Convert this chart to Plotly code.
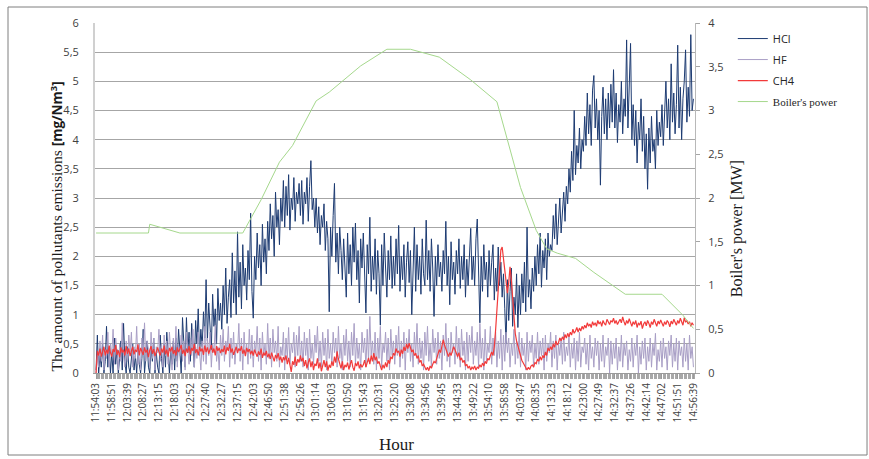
import plotly.graph_objects as go

# x-axis category labels (one label every 12 samples)
tick_labels = [
    "11:54:03", "11:58:51", "12:03:39", "12:08:27", "12:13:15", "12:18:03",
    "12:22:52", "12:27:40", "12:32:27", "12:37:15", "12:42:03", "12:46:50",
    "12:51:38", "12:56:26", "13:01:14", "13:06:03", "13:10:50", "13:15:43",
    "13:20:31", "13:25:20", "13:30:08", "13:34:56", "13:39:45", "13:44:33",
    "13:49:22", "13:54:10", "13:58:58", "14:03:47", "14:08:35", "14:13:23",
    "14:18:12", "14:23:00", "14:27:49", "14:32:37", "14:37:26", "14:42:14",
    "14:47:02", "14:51:51", "14:56:39",
]
samples_per_label = 12

# HCl concentration [mg/Nm3], one row per labelled interval
hcl = [
    0.05, 0.65, 0.0, 0.3, 0.1, 0.5, 0.0, 0.2, 0.8, 0.1, 0.45, 0.0,
    0.35, 0.0, 0.6, 0.15, 0.4, 0.0, 0.25, 0.55, 0.05, 0.85, 0.2, 0.0,
    0.45, 0.1, 0.0, 0.35, 0.5, 0.05, 0.3, 0.0, 0.4, 0.15, 0.0, 0.25,
    0.75, 0.0, 0.3, 0.55, 0.1, 0.0, 0.45, 0.2, 0.6, 0.0, 0.35, 0.1,
    0.0, 0.65, 0.25, 0.0, 0.5, 0.1, 0.7, 0.3, 0.0, 0.4, 0.15, 0.55,
    0.05, 0.6, 0.2, 0.75, 0.3, 0.0, 0.95, 0.4, 0.1, 0.95, 0.35, 0.7,
    0.2, 0.85, 0.4, 0.1, 0.9, 0.5, 1.1, 0.3, 0.75, 0.45, 1.05, 0.6,
    1.6, 0.55, 1.2, 0.7, 0.4, 1.35, 0.8, 1.1, 0.5, 1.45, 0.9, 1.2,
    0.75, 1.5, 1.0, 1.8, 0.85, 1.3, 1.6, 0.95, 2.06, 1.2, 1.75, 1.0,
    2.42, 1.3, 1.9, 1.1, 2.2, 1.5, 1.8, 1.25, 2.1, 1.6, 2.74, 1.4,
    0.94, 2.0, 1.6, 2.4, 1.8, 2.2, 1.5, 2.55, 1.9, 2.3, 1.7, 2.6,
    2.1, 2.9, 2.3, 2.7, 2.0, 3.1, 2.5, 2.8, 2.2, 3.0, 2.6, 3.3,
    2.5, 3.2, 2.7, 3.4, 2.45, 3.0, 2.8, 3.35, 2.6, 3.1, 2.9, 3.25,
    2.7, 3.3, 2.55, 3.1, 2.9, 3.35, 2.6, 3.2, 3.64, 2.8, 3.0, 2.5,
    3.0, 2.4, 2.85, 2.2, 2.7, 2.5, 2.9, 2.1, 2.6, 2.3, 1.05, 2.5,
    2.0, 2.7, 3.25, 1.9, 2.4, 1.7, 2.5, 2.1, 1.6, 2.3, 1.8, 1.3,
    2.4, 1.7, 2.2, 1.5, 2.5, 1.9, 2.57, 1.6, 2.1, 1.2, 2.3, 1.8,
    2.4, 1.5, 1.03, 2.2, 1.7, 2.67, 1.4, 2.0, 1.6, 2.3, 1.35, 2.1,
    1.7, 0.82, 2.2, 1.5, 2.4, 1.8, 1.3, 2.1, 1.6, 2.35, 1.45, 2.0,
    1.5, 2.3, 1.7, 2.53, 1.4, 2.0, 1.6, 2.2, 1.3, 1.9, 2.25, 1.55,
    2.1, 1.0, 1.8, 2.5, 1.4, 2.2, 1.6, 2.0, 1.35, 2.3, 1.7, 1.5,
    2.62, 1.6, 2.1, 1.4, 2.3, 1.8, 0.97, 2.0, 1.5, 2.2, 1.65, 1.9,
    1.4, 2.1, 1.7, 2.6, 1.5, 2.0, 1.17, 2.25, 1.6, 1.9, 1.35, 2.1,
    1.7, 2.3, 1.45, 2.0, 1.6, 2.2, 1.3, 1.95, 1.5, 2.1, 2.48, 1.6,
    2.0, 1.5, 2.3, 2.64, 1.7, 0.86, 2.0, 1.4, 2.2, 1.6, 1.9, 1.3,
    2.1, 1.5, 1.9, 2.2, 1.25, 1.8, 1.4, 2.16, 1.5, 1.9, 1.3, 1.7,
    1.1, 0.5, 1.6, 0.9, 1.4, 1.8, 0.8, 1.3, 1.0, 1.7, 0.78, 1.5,
    1.0, 1.7, 1.2, 1.9, 1.05, 2.5, 1.3, 1.6, 1.1, 1.8, 1.4, 2.0,
    1.5, 2.2, 1.7, 2.4, 1.47, 2.1, 1.8, 2.3, 1.6, 2.4, 2.0, 2.2,
    2.1, 2.7, 2.3, 2.9, 2.2, 2.6, 3.0, 2.4, 2.8, 3.1, 2.6, 3.2,
    2.9, 3.5, 3.1, 3.8, 3.3, 4.5, 3.4, 3.9, 3.6, 4.2, 3.5, 4.0,
    3.8, 4.4, 3.9, 4.8, 4.1, 4.6, 3.9, 4.85, 5.1, 4.2, 4.7, 4.0,
    4.5, 3.22, 4.4, 4.9, 4.1, 4.7, 4.0, 4.8, 4.2, 4.95, 4.3, 5.2,
    4.2, 4.8, 3.95, 4.6, 4.3, 5.0, 4.1, 4.7, 4.4, 5.71, 4.2, 4.9,
    5.65, 4.0, 4.6, 3.9, 4.5, 3.6, 4.3, 4.0, 4.7, 3.8, 4.4, 3.5,
    4.1, 3.15, 4.2, 3.6, 4.4, 3.8, 4.0, 3.5, 4.5, 3.9, 4.3, 4.05,
    4.6, 3.9, 4.4, 5.0, 4.2, 4.7, 4.0, 5.3, 4.3, 4.8, 4.1, 4.6,
    5.62, 4.2, 4.9, 4.0, 4.7, 5.0, 5.54, 4.3, 4.9, 4.4, 5.8, 4.5,
    4.7,
]

# HF concentration [mg/Nm3]
hf = [
    0.0, 0.3, 0.1, 0.55, 0.2, 0.65, 0.05, 0.4, 0.25, 0.7, 0.1, 0.5,
    0.3, 0.75, 0.15, 0.6, 0.35, 0.05, 0.5, 0.2, 0.86, 0.3, 0.1, 0.55,
    0.2, 0.65, 0.35, 0.7, 0.1, 0.45, 0.25, 0.8, 0.15, 0.5, 0.05, 0.6,
    0.3, 0.86, 0.2, 0.55, 0.4, 0.1, 0.7, 0.25, 0.6, 0.05, 0.45, 0.35,
    0.75, 0.2, 0.5, 0.1, 0.65, 0.3, 0.55, 0.15, 0.7, 0.35, 0.05, 0.6,
    0.25, 0.8, 0.1, 0.5, 0.3, 0.65, 0.2, 0.55, 0.05, 0.7, 0.4, 0.15,
    0.6, 0.3, 0.75, 0.1, 0.45, 0.25, 0.7, 0.35, 0.05, 0.55, 0.2, 0.8,
    0.15, 0.6, 0.3, 0.7, 0.1, 0.5, 0.35, 0.82, 0.2, 0.45, 0.05, 0.65,
    0.3, 0.75, 0.2, 0.55, 0.4, 0.8, 0.1, 0.6, 0.25, 0.7, 0.15, 0.5,
    0.35, 0.85, 0.2, 0.6, 0.05, 0.7, 0.3, 0.5, 0.15, 0.75, 0.25, 0.65,
    0.1, 0.55, 0.35, 0.8, 0.2, 0.6, 0.05, 0.7, 0.3, 0.5, 0.15, 0.85,
    0.25, 0.6, 0.1, 0.75, 0.35, 0.55, 0.2, 0.8, 0.1, 0.45, 0.3, 0.7,
    0.05, 0.6, 0.25, 0.78, 0.15, 0.5, 0.35, 0.7, 0.1, 0.65, 0.3, 0.8,
    0.2, 0.55, 0.1, 0.7, 0.3, 0.6, 0.05, 0.75, 0.25, 0.5, 0.15, 0.65,
    0.35, 0.8, 0.2, 0.55, 0.1, 0.7, 0.3, 0.6, 0.05, 0.75, 0.25, 0.5,
    0.15, 0.7, 0.35, 0.6, 0.1, 0.8, 0.25, 0.5, 0.05, 0.65, 0.3, 0.75,
    0.2, 0.55, 0.1, 0.7, 0.3, 0.85, 0.15, 0.6, 0.25, 0.5, 0.05, 0.7,
    0.35, 0.6, 0.1, 0.75, 0.2, 0.97, 0.3, 0.55, 0.15, 0.7, 0.05, 0.6,
    0.25, 0.8, 0.1, 0.5, 0.35, 0.7, 0.2, 0.6, 0.05, 0.75, 0.3, 0.55,
    0.15, 0.65, 0.3, 0.8, 0.1, 0.55, 0.25, 0.7, 0.05, 0.6, 0.35, 0.75,
    0.2, 0.5, 0.1, 0.7, 0.3, 0.85, 0.15, 0.6, 0.25, 0.55, 0.05, 0.7,
    0.3, 0.8, 0.2, 0.5, 0.1, 0.75, 0.35, 0.6, 0.15, 0.7, 0.25, 0.55,
    0.05, 0.65, 0.3, 0.85, 0.2, 0.6, 0.1, 0.7, 0.35, 0.5, 0.15, 0.8,
    0.25, 0.6, 0.1, 0.75, 0.3, 0.55, 0.05, 0.7, 0.2, 0.65, 0.35, 0.8,
    0.15, 0.55, 0.3, 0.7, 0.1, 0.85, 0.25, 0.6, 0.05, 0.75, 0.2, 0.5,
    0.35, 0.8, 0.15, 0.6, 0.3, 0.7, 0.1, 0.55, 0.25, 0.75, 0.05, 0.65,
    0.2, 0.7, 0.35, 0.6, 0.1, 0.5, 0.3, 0.75, 0.15, 0.55, 0.25, 0.7,
    0.1, 0.6, 0.3, 0.5, 0.05, 0.7, 0.2, 0.55, 0.35, 0.65, 0.1, 0.5,
    0.25, 0.7, 0.15, 0.55, 0.3, 0.6, 0.05, 0.65, 0.2, 0.5, 0.35, 0.7,
    0.1, 0.55, 0.25, 0.65, 0.05, 0.5, 0.3, 0.6, 0.15, 0.7, 0.2, 0.45,
    0.3, 0.65, 0.1, 0.5, 0.25, 0.6, 0.05, 0.55, 0.2, 0.7, 0.1, 0.45,
    0.35, 0.6, 0.15, 0.5, 0.05, 0.65, 0.25, 0.45, 0.1, 0.6, 0.3, 0.55,
    0.05, 0.5, 0.2, 0.65, 0.1, 0.45, 0.3, 0.6, 0.0, 0.55, 0.15, 0.5,
    0.25, 0.6, 0.05, 0.45, 0.2, 0.65, 0.1, 0.5, 0.3, 0.55, 0.05, 0.4,
    0.2, 0.6, 0.1, 0.5, 0.3, 0.65, 0.0, 0.45, 0.15, 0.55, 0.25, 0.6,
    0.05, 0.45, 0.2, 0.6, 0.1, 0.5, 0.3, 0.68, 0.05, 0.4, 0.2, 0.55,
    0.1, 0.6, 0.25, 0.45, 0.05, 0.55, 0.3, 0.65, 0.1, 0.5, 0.2, 0.6,
    0.05, 0.55, 0.3, 0.45, 0.1, 0.6, 0.2, 0.5, 0.05, 0.65, 0.25, 0.45,
    0.1,
]

# CH4 concentration [mg/Nm3]
ch4 = [
    0.0, 0.38, 0.3, 0.42, 0.28, 0.36, 0.45, 0.3, 0.4, 0.33, 0.47, 0.35,
    0.28, 0.41, 0.36, 0.48, 0.31, 0.39, 0.27, 0.44, 0.35, 0.4, 0.3, 0.46,
    0.33, 0.42, 0.29, 0.38, 0.45, 0.32, 0.4, 0.36, 0.49, 0.3, 0.43, 0.37,
    0.31, 0.44, 0.35, 0.4, 0.27, 0.39, 0.46, 0.33, 0.41, 0.29, 0.38, 0.44,
    0.36, 0.3, 0.42, 0.35, 0.47, 0.32, 0.4, 0.28, 0.43, 0.37, 0.45, 0.33,
    0.39, 0.3, 0.44, 0.36, 0.41, 0.48, 0.33, 0.4, 0.29, 0.42, 0.35, 0.46,
    0.32, 0.43, 0.38, 0.5, 0.34, 0.41, 0.3, 0.45, 0.37, 0.42, 0.31, 0.47,
    0.36, 0.44, 0.33, 0.4, 0.48, 0.35, 0.42, 0.3, 0.46, 0.38, 0.43, 0.34,
    0.41, 0.36, 0.47, 0.32, 0.44, 0.38, 0.5, 0.35, 0.42, 0.31, 0.4, 0.45,
    0.34, 0.42, 0.38, 0.46, 0.33, 0.4, 0.29, 0.43, 0.36, 0.41, 0.32, 0.38,
    0.3, 0.4, 0.34, 0.28, 0.37, 0.31, 0.42, 0.26, 0.35, 0.3, 0.38, 0.27,
    0.33, 0.24, 0.35, 0.28, 0.2, 0.31, 0.25, 0.34, 0.22, 0.28, 0.18, 0.27,
    0.22, 0.3, 0.15, 0.26, 0.1, 0.02, 0.2, 0.14, 0.28, 0.12, 0.24, 0.18,
    0.3, 0.2, 0.26, 0.12, 0.22, 0.08, 0.18, 0.25, 0.1, 0.2, 0.05, 0.16,
    0.12, 0.25, 0.08, 0.18, 0.03, 0.15, 0.22, 0.1, 0.2, 0.04, 0.14, 0.09,
    0.2, 0.12, 0.28, 0.18, 0.37, 0.24, 0.15, 0.08, 0.2, 0.05, 0.14, 0.1,
    0.18, 0.06, 0.15, 0.22, 0.1, 0.04, 0.17, 0.12, 0.2, 0.08, 0.15, 0.1,
    0.14, 0.22, 0.1, 0.18, 0.26, 0.15, 0.3, 0.2, 0.34, 0.22, 0.28, 0.16,
    0.2, 0.12, 0.05, 0.14, 0.08, 0.18, 0.1, 0.22, 0.16, 0.28, 0.24, 0.34,
    0.3, 0.42, 0.35, 0.38, 0.28, 0.4, 0.33, 0.45, 0.38, 0.5, 0.42, 0.51,
    0.44, 0.36, 0.4, 0.3, 0.34, 0.25, 0.3, 0.18, 0.22, 0.12, 0.15, 0.08,
    0.05, 0.1, 0.04, 0.12, 0.08, 0.15, 0.2, 0.17, 0.25, 0.3, 0.4, 0.35,
    0.45, 0.57, 0.48, 0.4, 0.32, 0.28, 0.35, 0.3, 0.38, 0.45, 0.4, 0.34,
    0.28, 0.35, 0.22, 0.26, 0.18, 0.22, 0.12, 0.15, 0.08, 0.12, 0.05, 0.1,
    0.07, 0.12, 0.05, 0.1, 0.08, 0.14, 0.1, 0.17, 0.12, 0.2, 0.16, 0.25,
    0.22, 0.3, 0.36, 0.3, 0.45, 0.74, 1.1, 1.54, 1.85, 2.11, 2.16, 1.95,
    1.82, 1.6, 1.37, 1.55, 1.82, 1.6, 1.25, 0.95, 0.68, 0.55, 0.45, 0.35,
    0.3, 0.22, 0.17, 0.12, 0.08, 0.05, 0.1, 0.06, 0.12, 0.14, 0.1, 0.18,
    0.16, 0.24, 0.2, 0.28, 0.22, 0.3, 0.26, 0.36, 0.3, 0.43, 0.38, 0.45,
    0.4, 0.5, 0.44, 0.55, 0.48, 0.52, 0.6, 0.55, 0.62, 0.57, 0.66, 0.6,
    0.68, 0.62, 0.7, 0.65, 0.75, 0.68, 0.72, 0.78, 0.7, 0.77, 0.72, 0.8,
    0.75, 0.82, 0.77, 0.86, 0.8, 0.84, 0.78, 0.88, 0.82, 0.86, 0.8, 0.9,
    0.84, 0.88, 0.8, 0.9, 0.85, 0.82, 0.92, 0.86, 0.83, 0.9, 0.87, 0.94,
    0.85, 0.9, 0.83, 0.88, 0.92, 0.86, 0.96, 0.88, 0.82, 0.9, 0.85, 0.93,
    0.86, 0.8, 0.88, 0.83, 0.9, 0.78, 0.86, 0.82, 0.89, 0.76, 0.84, 0.88,
    0.81, 0.9, 0.85, 0.78, 0.88, 0.83, 0.92, 0.86, 0.8, 0.89, 0.84, 0.91,
    0.85, 0.8, 0.88, 0.83, 0.9, 0.86, 0.79, 0.89, 0.84, 0.92, 0.87, 0.82,
    0.9, 0.85, 0.94, 0.88, 0.82, 0.95, 0.87, 0.9, 0.84, 0.88, 0.8, 0.86,
    0.82,
]

# Boiler's power [MW] at the samples where its trend changes
power_sample = [0, 40, 41, 64, 112, 126, 140, 150, 168, 178, 202, 222, 240,
                262, 286, 306, 324, 336, 344, 352, 366, 380, 404, 432, 448, 456]
power_mw = [1.60, 1.60, 1.70, 1.60, 1.60, 1.98, 2.41, 2.60, 3.11, 3.21, 3.51,
            3.70, 3.70, 3.61, 3.35, 3.10, 2.12, 1.63, 1.42, 1.37, 1.31, 1.15,
            0.90, 0.90, 0.66, 0.51]

samples = list(range(len(hcl)))
tick_pos = [i * samples_per_label for i in range(len(tick_labels))]

SANS = "Open Sans"
SERIF = "Liberation Serif"

fig = go.Figure()
fig.add_trace(go.Scatter(x=samples, y=hcl, mode="lines", name="HCl",
                         legendgroup="a",
                         line=dict(color="#1d3b72", width=1)))
fig.add_trace(go.Scatter(x=samples, y=hf, mode="lines", name="HF",
                         legendgroup="b",
                         line=dict(color="#a99fc6", width=1)))
fig.add_trace(go.Scatter(x=samples, y=ch4, mode="lines", name="CH4",
                         legendgroup="c",
                         line=dict(color="#f23a3a", width=1.2)))
fig.add_trace(go.Scatter(x=power_sample, y=power_mw, mode="lines",
                         name=f'<span style="font-family:{SERIF}">Boiler\'s power</span>',
                         legendgroup="d",
                         yaxis="y2", line=dict(color="#a5d88c", width=1)))

fig.update_layout(
    width=869, height=459,
    margin=dict(l=95, r=174, t=23, b=86),
    paper_bgcolor="white", plot_bgcolor="white",
    separators=",.",
    font=dict(family=SANS, size=11, color="#404040"),
    showlegend=True,
    legend=dict(x=1.063, y=0.997, xanchor="left", yanchor="top",
                font=dict(family=SANS, size=11, color="#262626"),
                itemwidth=30, tracegroupgap=2, bgcolor="rgba(0,0,0,0)"),
    xaxis=dict(
        range=[-0.8, 457.2], tickmode="array", tickvals=tick_pos,
        ticktext=tick_labels, tickangle=-90,
        tickfont=dict(family=SANS, size=10, color="#404040"),
        ticks="outside", ticklen=5, tickcolor="#9a9a9a", tickwidth=1,
        minor=dict(tickmode="linear", tick0=0, dtick=1, ticks="outside",
                   ticklen=5, tickcolor="#a8a8a8", tickwidth=1),
        showgrid=False, zeroline=False,
        showline=True, linecolor="#9a9a9a", linewidth=1,
    ),
    yaxis=dict(
        range=[0, 6], dtick=0.5, tick0=0,
        tickfont=dict(family=SANS, size=11, color="#404040"),
        ticklabelstandoff=12,
        showgrid=True, gridcolor="#a6a6a6", gridwidth=1,
        zeroline=False, showline=True, linecolor="#d0d0d0", linewidth=2,
    ),
    yaxis2=dict(
        range=[0, 4], dtick=0.5, tick0=0, overlaying="y", side="right",
        tickfont=dict(family=SANS, size=11, color="#404040"),
        ticks="outside", ticklen=4, tickcolor="#a6a6a6",
        ticklabelstandoff=6,
        showgrid=False, zeroline=False,
        showline=True, linecolor="#b8b8b8", linewidth=1,
    ),
)

# Axis titles
fig.add_annotation(
    text=('The amount of pollutants emissions '
          f'<span style="font-family:{SANS};font-size:13.5px">'
          '<b>[mg/Nm<sup>3</sup>]</b></span>'),
    xref="paper", yref="paper", x=-0.0633, y=0.4186, textangle=-90,
    xanchor="center", yanchor="middle", showarrow=False,
    font=dict(family=SERIF, size=15.5, color="#1a1a1a"))
fig.add_annotation(
    text="Boiler's power [MW]",
    xref="paper", yref="paper", x=1.07, y=0.411, textangle=-90,
    xanchor="center", yanchor="middle", showarrow=False,
    font=dict(family=SERIF, size=16, color="#1a1a1a"))
fig.add_annotation(
    text="Hour", xref="paper", yref="paper", x=0.503, y=-0.203,
    xanchor="center", yanchor="middle", showarrow=False,
    font=dict(family=SERIF, size=17, color="#1a1a1a"))

# Frame around the whole chart
fig.add_shape(type="rect", xref="paper", yref="paper",
              x0=-0.145, x1=1.2867, y0=-0.2343, y1=1.0457,
              line=dict(color="#7f7f7f", width=1), layer="below")

fig.write_html("out.html")
